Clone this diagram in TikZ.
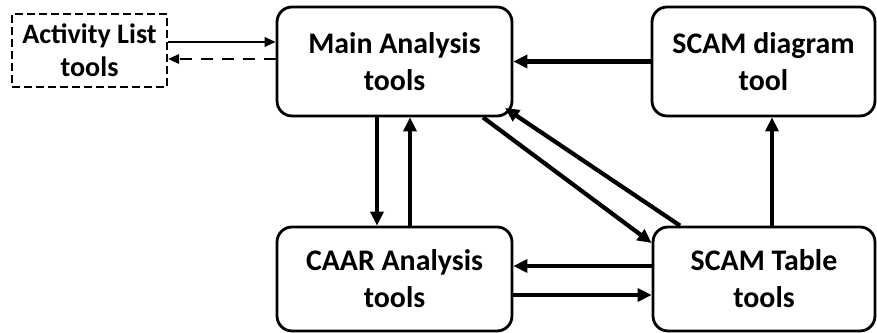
\documentclass[tikz,border=0pt]{standalone}
\usepackage{fontspec}
\setmainfont{Carlito}
\usetikzlibrary{arrows.meta}

\begin{document}
\begin{tikzpicture}[x=0.02cm,y=-0.02cm,
	box/.style={draw,line width=1.6pt,rounded corners=0.3cm,align=center,inner sep=0pt,
		font=\bfseries\fontsize{17}{21}\selectfont},
	actbox/.style={draw,dash pattern=on 0.16cm off 0.08cm,line width=1.4pt,align=center,inner sep=0pt,
		minimum width=3.1cm,minimum height=1.46cm,font=\bfseries\fontsize{16}{19}\selectfont},
	link/.style={line width=2.4pt,-{Triangle[length=0.28cm,width=0.26cm]}},
	thin link/.style={line width=1.2pt,-{Triangle[length=0.22cm,width=0.19cm]}}]
	\useasboundingbox (0,0) rectangle (877,333);
	\node[actbox] (act) at (89.5,50.5) {Activity List\\tools};
	\node[box,minimum width=4.7cm,minimum height=2.18cm] (main) at (394.5,61.5) {Main Analysis\\tools};
	\node[box,minimum width=4.46cm,minimum height=2.18cm] (diag) at (763.5,61.5) {SCAM diagram\\tool};
	\node[box,minimum width=4.7cm,minimum height=2.08cm] (caar) at (394.5,279) {CAAR Analysis\\tools};
	\node[box,minimum width=4.44cm,minimum height=2.08cm] (table) at (764,279) {SCAM Table\\tools};
	\draw[thin link] (act.east |- 0,42) -- (main.west |- 0,42);
	\draw[thin link,dash pattern=on 0.24cm off 0.18cm] (main.west |- 0,59) -- (act.east |- 0,59);
	\draw[link] (diag.west) -- (main.east);
	\draw[link] (main.south -| 377,0) -- (caar.north -| 377,0);
	\draw[link] (caar.north -| 410,0) -- (main.south -| 410,0);
	\draw[link] (table.north -| 772,0) -- (diag.south -| 772,0);
	\draw[link] (table.west |- 0,266) -- (caar.east |- 0,266);
	\draw[link] (caar.east |- 0,295) -- (table.west |- 0,295);
	\draw[link] (main.south -| 483,0) -- (table.west |- 0,243);
	\draw[link] (table.north -| 680,0) -- (505,108);
\end{tikzpicture}
\end{document}
